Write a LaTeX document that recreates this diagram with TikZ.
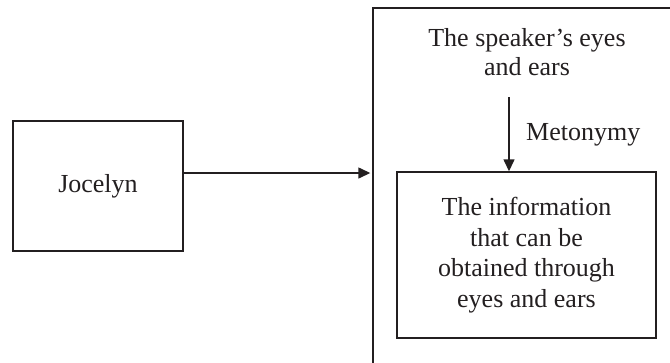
\documentclass[tikz,border=0pt]{standalone}
\usepackage{fontspec}
\setmainfont{Liberation Serif}
\usetikzlibrary{arrows.meta}
\definecolor{ink}{RGB}{35,31,32}
\begin{document}
\begin{tikzpicture}[x=1pt,y=-1pt,
  every node/.style={text=ink,font=\fontsize{26}{30.5}\selectfont},
  frame/.style={draw=ink,line width=1.4pt,rectangle,inner sep=0pt},
  label/.style={align=center,inner sep=0pt},
  arr/.style={draw=ink,line width=1.4pt,-{Triangle[length=12pt,width=11pt]}}]
\useasboundingbox (0,0) rectangle (670,362);
\begin{scope}
\clip (0,0) rectangle (670,362);
% left box
\node[frame,minimum width=170pt,minimum height=130pt] (jocelyn) at (98,186) {Jocelyn};
% large frame running past the right and bottom edges
\node[frame,minimum width=327pt,minimum height=392pt] (outer) at (536.5,204) {};
% top label inside the large frame (base = baseline of its last line)
\node[label,anchor=base,font=\fontsize{26}{28.5}\selectfont] (source) at (527,75)
  {The speaker’s eyes\\and ears};
% inner box
\node[frame,minimum width=259pt,minimum height=166pt] (target) at (526.5,255) {};
\node[label,anchor=base] (targettext) at (526.5,307)
  {The information\\that can be\\obtained through\\eyes and ears};
% metonymy arrow and its label
\coordinate (mtop) at (509,97);
\draw[arr] (mtop) -- (mtop |- target.north);
\node[inner sep=0pt,anchor=base west] (meto) at (526,140) {Metonymy};
% arrow from the left box to the large frame
\coordinate (jstart) at ([yshift=13pt]jocelyn.east);
\draw[arr,shorten >=2pt] (jstart) -- (jstart -| outer.west);
\end{scope}
\end{tikzpicture}
\end{document}
